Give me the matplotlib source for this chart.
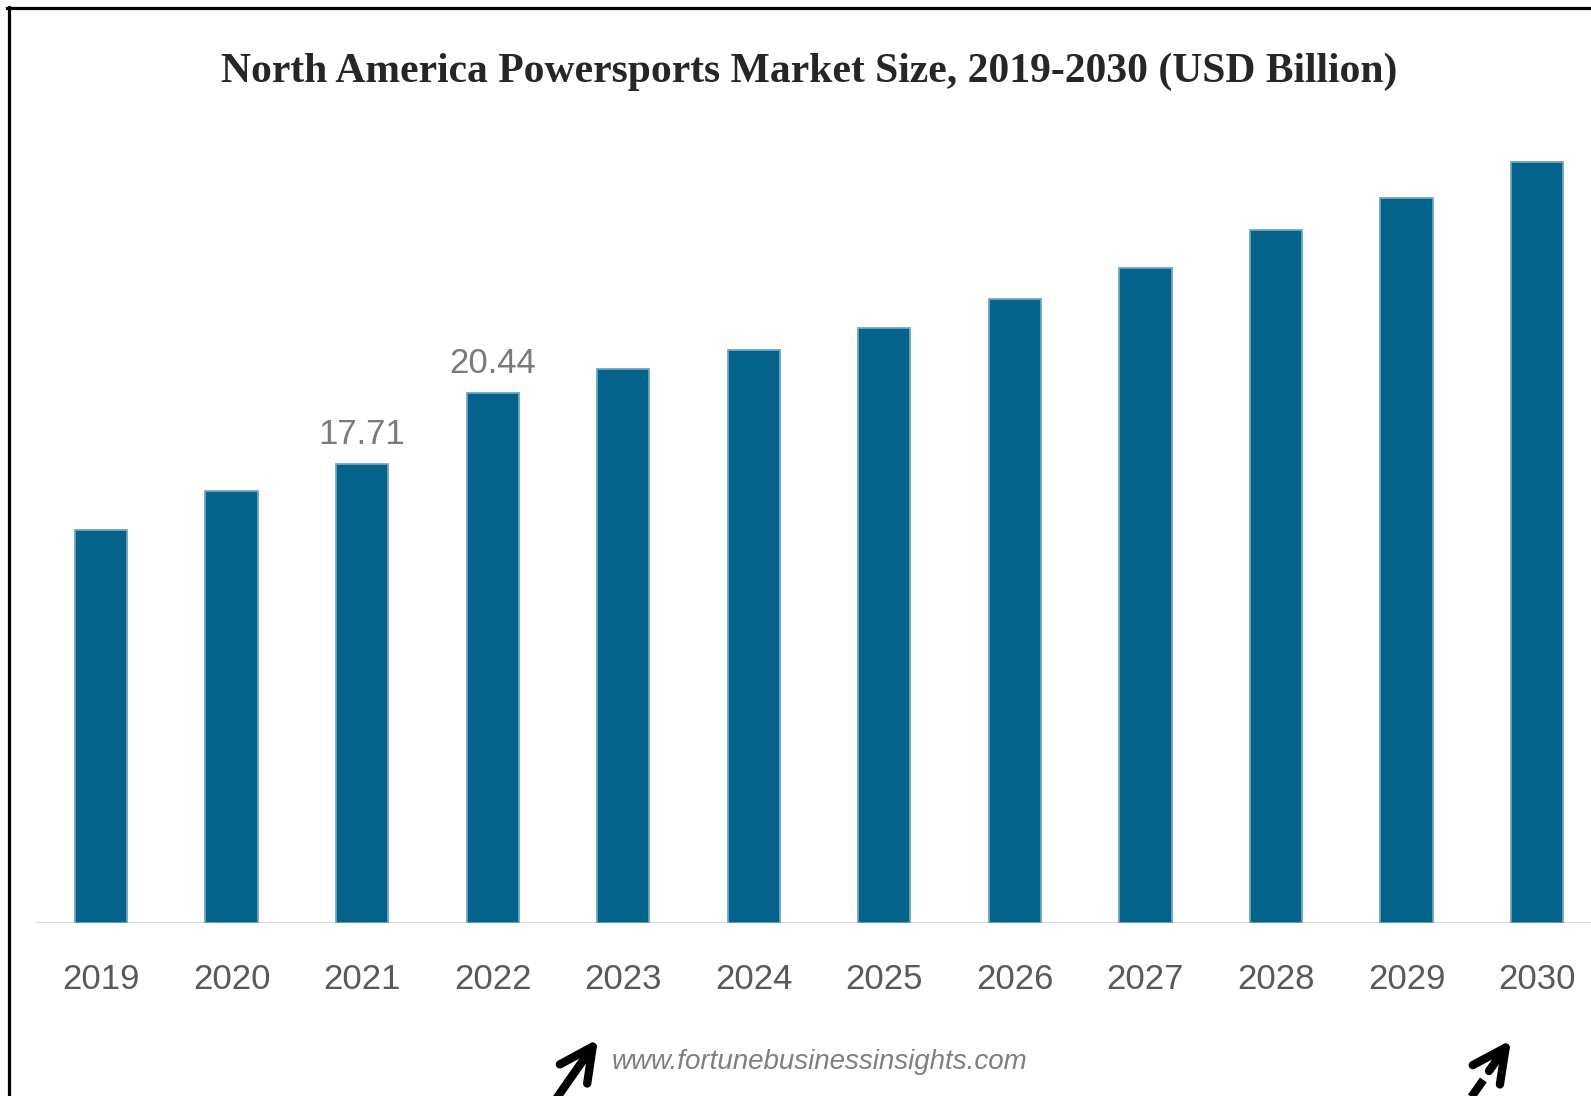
import matplotlib
matplotlib.use("Agg")
import matplotlib.pyplot as plt
from matplotlib.lines import Line2D
from matplotlib.patches import FancyArrowPatch

# --------------------------------------------
# DATA (USD Billion)
# --------------------------------------------
years = ["2019", "2020", "2021", "2022", "2023", "2024",
         "2025", "2026", "2027", "2028", "2029", "2030"]
market_size = [15.16, 16.65, 17.71, 20.44, 21.35, 22.09,
               22.95, 24.04, 25.26, 26.70, 27.95, 29.34]
labelled_years = ["2021", "2022"]

title = "North America Powersports Market Size, 2019-2030 (USD Billion)"
source = "www.fortunebusinessinsights.com"

bar_color = "#05628a"
edge_color = "#6ea6be"
sans = ["Liberation Sans", "DejaVu Sans"]

W, H = 1591, 1096
fig = plt.figure(figsize=(W / 100, H / 100), dpi=100)
fig.patch.set_facecolor("white")

# axes placed in pixel terms so the bars line up with the picture
ax = fig.add_axes([36 / W, (H - 923) / H, 1 - 36 / W, 778.2 / H])
x = list(range(len(years)))
ax.bar(x, market_size, width=0.4, color=bar_color, edgecolor=edge_color,
       linewidth=1.3, zorder=3)
ax.axhline(0, color="#dcdcdc", linewidth=2.4, zorder=2)
ax.set_xlim(-0.498, 11.413)
ax.set_ylim(0, 30)

ax.set_xticks(x)
ax.set_xticklabels(years, family=sans, fontsize=25, color="#595959")
ax.tick_params(axis="x", length=0, pad=29)
ax.set_yticks([])
for s in ax.spines.values():
    s.set_visible(False)

for i, (yr, v) in enumerate(zip(years, market_size)):
    if yr in labelled_years:
        ax.annotate(f"{v:.2f}", (i, v), xytext=(0, 9), textcoords="offset points",
                    ha="center", va="bottom", family=sans, fontsize=25,
                    color="#7a7a7a")

# --------------------------------------------
# TITLE, SOURCE, FRAME, ARROWS
# --------------------------------------------
fig.text(809 / W, 1 - 72 / H, title, ha="center", va="center",
         family="Liberation Serif", fontweight="bold", fontsize=30,
         color="#262626")
fig.text(819 / W, 1 - 1062 / H, source, ha="center", va="center",
         family=sans, style="italic", fontsize=20, color="#7f7f7f")

fig.add_artist(Line2D([8.5 / W, 8.5 / W], [0, 1 - 7 / H], color="black",
                      linewidth=2.3, transform=fig.transFigure))
fig.add_artist(Line2D([7 / W, 1], [1 - 8 / H, 1 - 8 / H], color="black",
                      linewidth=2.3, transform=fig.transFigure))


def fpos(px, py):
    return (px / W, 1 - py / H)


head = "->,head_length=1.2,head_width=0.6"

# solid arrow
fig.add_artist(FancyArrowPatch(fpos(542, 1119), fpos(598, 1039),
                               transform=fig.transFigure, arrowstyle=head,
                               mutation_scale=20, shrinkA=0, shrinkB=0,
                               color="black", linewidth=6, capstyle="round",
                               joinstyle="round"))
# dashed arrow: dashed shaft plus solid head
fig.add_artist(Line2D([1456 / W, 1484 / W], [1 - 1119 / H, 1 - 1079 / H],
                      color="black", linewidth=6, linestyle=(0, (2.5, 1.4)),
                      transform=fig.transFigure))
fig.add_artist(FancyArrowPatch(fpos(1489, 1071), fpos(1511, 1040),
                               transform=fig.transFigure, arrowstyle=head,
                               mutation_scale=20, shrinkA=0, shrinkB=0,
                               color="black", linewidth=6, capstyle="round",
                               joinstyle="round"))

fig.savefig("out.png", dpi=100, facecolor="white")
